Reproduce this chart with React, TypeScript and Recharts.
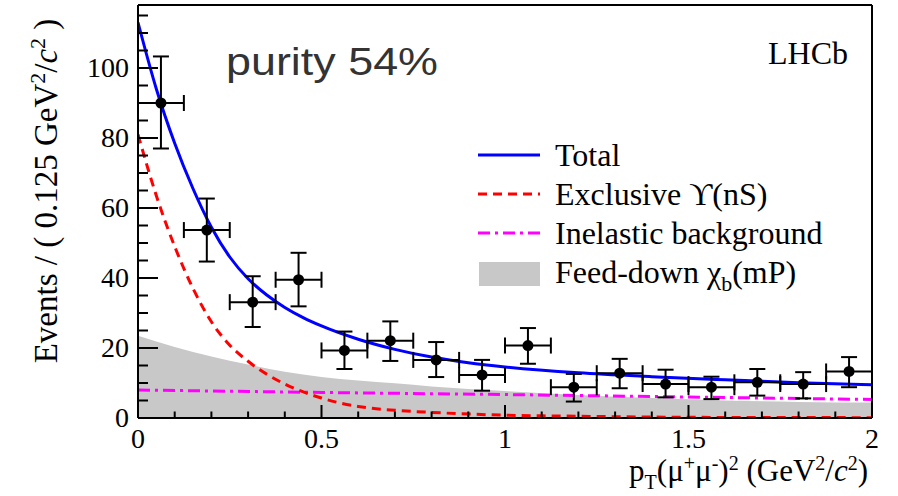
import React from "react";
import { ComposedChart, XAxis, YAxis, Line, Area, Scatter, ErrorBar } from "recharts";

const SERIF = '"Liberation Serif", "Times New Roman", serif';

// measured bins, 0.125 GeV^2/c^2 wide
const binCentres = [0.0625, 0.1875, 0.3125, 0.4375, 0.5625, 0.6875, 0.8125, 0.9375, 1.0625, 1.1875, 1.3125, 1.4375, 1.5625, 1.6875, 1.8125, 1.9375];
const counts = [90, 53.7, 33.1, 39.5, 19.3, 22.1, 16.6, 12.3, 20.7, 8.8, 12.8, 9.7, 8.8, 10.2, 9.7, 13.3];
const errLow = [13, 9, 7.1, 7.6, 5.3, 5.8, 4.9, 4.5, 5.2, 4.1, 4.3, 3.8, 3.4, 3.8, 4.1, 4.5];
const errHigh = [13.3, 9, 7.4, 7.7, 5.4, 5.5, 5.1, 4.3, 5.0, 3.8, 4.1, 4.1, 3.0, 3.8, 3.4, 4.1];
const binHalf = 0.0625;

// fit components
const totalX = [0, 0.05, 0.1, 0.15, 0.2, 0.25, 0.3, 0.35, 0.4, 0.45, 0.5, 0.6, 0.7, 0.8, 0.9, 1.0, 1.2, 1.4, 1.6, 1.8, 2.0];
const totalY = [113, 94, 78.5, 65.5, 54.5, 46, 39.8, 35.2, 31.6, 28.7, 26.3, 22.5, 19.6, 17.4, 15.8, 14.6, 12.9, 11.8, 10.9, 10.1, 9.5];

const exclX = [0, 0.05, 0.1, 0.15, 0.2, 0.25, 0.3, 0.4, 0.5, 0.6, 0.7, 0.8, 1.0, 1.2, 1.5, 2.0];
const exclY = [81, 63.5, 49, 37, 27.5, 20.8, 16.2, 9.7, 5.7, 3.3, 2.2, 1.6, 0.8, 0.5, 0.2, 0.1];

const inelX = [0, 0.5, 1, 1.5, 2];
const inelY = [8.0, 7.3, 6.7, 6.0, 5.3];

const feedX = [0, 0.1, 0.2, 0.3, 0.4, 0.5, 0.6, 0.7, 0.8, 0.9, 1.0, 1.2, 1.4, 1.6, 1.8, 2.0];
const feedY = [23.5, 20.3, 17.6, 15.3, 13.2, 11.7, 10.7, 9.9, 9.0, 8.3, 7.7, 6.6, 5.7, 5.0, 4.6, 4.4];

const xTicks = [0, 0.1, 0.2, 0.3, 0.4, 0.5, 0.6, 0.7, 0.8, 0.9, 1, 1.1, 1.2, 1.3, 1.4, 1.5, 1.6, 1.7, 1.8, 1.9, 2];
const xLabels = [0, 0.5, 1, 1.5, 2];
const yTicks = [0, 5, 10, 15, 20, 25, 30, 35, 40, 45, 50, 55, 60, 65, 70, 75, 80, 85, 90, 95, 100, 105, 110, 115];
const yLabels = [0, 20, 40, 60, 80, 100];

const points = binCentres.map((x, i) => ({ x, y: counts[i], ey: [errLow[i], errHigh[i]], ex: binHalf }));
const total = totalX.map((x, i) => ({ x, y: totalY[i] }));
const exclusive = exclX.map((x, i) => ({ x, y: exclY[i] }));
const inelastic = inelX.map((x, i) => ({ x, y: inelY[i] }));
const feedDown = feedX.map((x, i) => ({ x, y: feedY[i] }));

const LeftTick = ({ x, y, payload }: any) => {
  const major = yLabels.includes(payload.value);
  return (
    <g>
      <line x1={x} x2={x + (major ? 20 : 10)} y1={y} y2={y} stroke="#000" strokeWidth={2} />
      {major && (
        <text x={x - 9} y={y + 9} textAnchor="end" fontFamily={SERIF} fontSize={28} fill="#000">
          {payload.value}
        </text>
      )}
    </g>
  );
};

const RightTick = ({ x, y, payload }: any) => {
  const major = yLabels.includes(payload.value);
  return <line x1={x} x2={x - (major ? 18 : 9)} y1={y} y2={y} stroke="#000" strokeWidth={2} />;
};

const BottomTick = ({ x, y, payload }: any) => {
  const major = xLabels.includes(payload.value);
  return (
    <g>
      <line x1={x} x2={x} y1={y} y2={y - (major ? 13 : 6.5)} stroke="#000" strokeWidth={2} />
      {major && (
        <text x={x} y={y + 30} textAnchor="middle" fontFamily={SERIF} fontSize={28} fill="#000">
          {payload.value}
        </text>
      )}
    </g>
  );
};

const TopTick = ({ x, y, payload }: any) => {
  const major = xLabels.includes(payload.value);
  return <line x1={x} x2={x} y1={y} y2={y + (major ? 13 : 6.5)} stroke="#000" strokeWidth={2} />;
};

const Dot = ({ cx, cy }: any) => <circle cx={cx} cy={cy} r={5.5} fill="#000" />;

const axisLine = { stroke: "#000", strokeWidth: 2 };

export default function App() {
  return (
    <div style={{ position: "absolute", left: 0, top: 0, width: 898, height: 496, background: "#fff" }}>
      <ComposedChart width={898} height={496} margin={{ top: 4, right: 25, bottom: 0, left: 0 }}>
        <XAxis xAxisId={0} type="number" dataKey="x" domain={[0, 2]} ticks={xTicks} interval={0}
          height={78} tickSize={0} tickMargin={0} tick={<BottomTick />} axisLine={axisLine} allowDataOverflow />
        <XAxis xAxisId="top" orientation="top" type="number" dataKey="x" domain={[0, 2]} ticks={xTicks} interval={0}
          height={1} tickSize={0} tickMargin={0} tick={<TopTick />} axisLine={axisLine} />
        <YAxis yAxisId={0} type="number" domain={[0, 118]} ticks={yTicks} interval={0}
          width={138} tickSize={0} tickMargin={0} tick={<LeftTick />} axisLine={axisLine} allowDataOverflow />
        <YAxis yAxisId="right" orientation="right" type="number" domain={[0, 118]} ticks={yTicks} interval={0}
          width={1} tickSize={0} tickMargin={0} tick={<RightTick />} axisLine={axisLine} />
        <Area data={feedDown} dataKey="y" type="monotone" fill="#c8c8c8" fillOpacity={1} stroke="none" isAnimationActive={false} />
        <Line data={inelastic} dataKey="y" type="monotone" stroke="#ff00ff" strokeWidth={3} strokeDasharray="12 5 3 5" dot={false} isAnimationActive={false} />
        <Line data={exclusive} dataKey="y" type="monotone" stroke="#ff0000" strokeWidth={3} strokeDasharray="9 6" dot={false} isAnimationActive={false} />
        <Line data={total} dataKey="y" type="monotone" stroke="#0000ff" strokeWidth={3} dot={false} isAnimationActive={false} />
        <Scatter data={points} dataKey="y" shape={<Dot />} isAnimationActive={false}>
          <ErrorBar dataKey="ey" direction="y" width={8} stroke="#000" strokeWidth={2} />
          <ErrorBar dataKey="ex" direction="x" width={8} stroke="#000" strokeWidth={2} />
        </Scatter>
      </ComposedChart>

      <svg width={898} height={496} style={{ position: "absolute", left: 0, top: 0, pointerEvents: "none" }}>
        <text x={226} y={75} fontFamily='"Liberation Sans", Arial, sans-serif' fontSize={38} fill="#333"
          textLength={212} lengthAdjust="spacingAndGlyphs">purity 54%</text>
        <text x={768} y={64} fontFamily={SERIF} fontSize={32} fill="#000">LHCb</text>

        <g fontFamily={SERIF} fontSize={32} fill="#000">
          <line x1={478} x2={540} y1={155} y2={155} stroke="#0000ff" strokeWidth={3} />
          <text x={555} y={166}>Total</text>
          <line x1={478} x2={540} y1={194} y2={194} stroke="#ff0000" strokeWidth={3} strokeDasharray="9 6" />
          <text x={555} y={205}>Exclusive ϒ(nS)</text>
          <line x1={478} x2={540} y1={233} y2={233} stroke="#ff00ff" strokeWidth={3} strokeDasharray="12 5 3 5" />
          <text x={555} y={244}>Inelastic background</text>
          <rect x={479} y={262} width={61} height={24} fill="#c8c8c8" />
          <text x={555} y={283}>Feed-down χ<tspan dy={8} fontSize={22}>b</tspan><tspan dy={-8}>(mP)</tspan></text>
        </g>

        <text transform="translate(57,191) rotate(-90)" textAnchor="middle" fontFamily={SERIF} fontSize={33} fill="#000">
          Events / ( 0.125 GeV<tspan dy={-12} fontSize={22}>2</tspan><tspan dy={12}>/</tspan><tspan fontStyle="italic">c</tspan><tspan dy={-12} fontSize={22}>2</tspan><tspan dy={12}> )</tspan>
        </text>
        <text x={868} y={481} textAnchor="end" fontFamily={SERIF} fontSize={31} fill="#000">
          p<tspan dy={8} fontSize={20}>T</tspan><tspan dy={-8}>(μ</tspan><tspan dy={-11} fontSize={20}>+</tspan><tspan dy={11}>μ</tspan><tspan dy={-11} fontSize={20}>-</tspan><tspan dy={11}>)</tspan><tspan dy={-11} fontSize={20}>2</tspan><tspan dy={11}> (GeV</tspan><tspan dy={-11} fontSize={20}>2</tspan><tspan dy={11}>/</tspan><tspan fontStyle="italic">c</tspan><tspan dy={-11} fontSize={20}>2</tspan><tspan dy={11}>)</tspan>
        </text>
      </svg>
    </div>
  );
}
